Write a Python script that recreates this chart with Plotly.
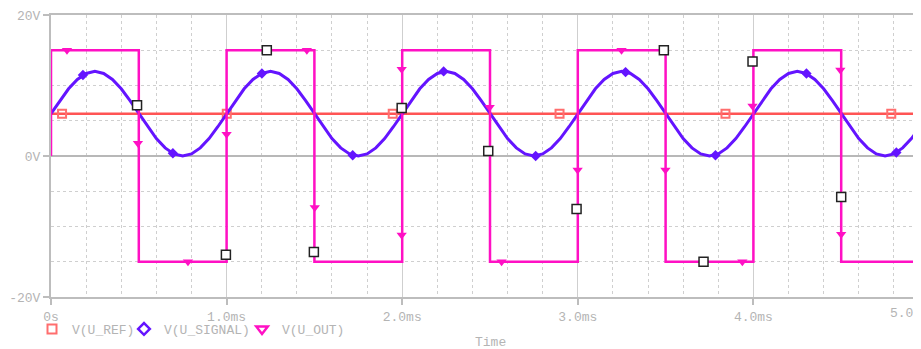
import plotly.graph_objects as go

# ---------------- data (time in ms, voltage in V) ----------------
t_ref = [0.0, 5.0]
v_ref = [6.0, 6.0]
t_ref_mk = [0.063, 1.001, 1.946, 2.896, 3.841, 4.785]
v_ref_mk = [6.0, 6.0, 6.0, 6.0, 6.0, 6.0]

t_sig = [i * 0.05 for i in range(101)]
v_sig = [
    6.0, 7.85, 9.53, 10.85, 11.71, 12.0, 11.71, 10.85, 9.53, 7.85,
    6.0, 4.15, 2.47, 1.15, 0.29, 0.0, 0.29, 1.15, 2.47, 4.15,
    6.0, 7.85, 9.53, 10.85, 11.71, 12.0, 11.71, 10.85, 9.53, 7.85,
    6.0, 4.15, 2.47, 1.15, 0.29, 0.0, 0.29, 1.15, 2.47, 4.15,
    6.0, 7.85, 9.53, 10.85, 11.71, 12.0, 11.71, 10.85, 9.53, 7.85,
    6.0, 4.15, 2.47, 1.15, 0.29, 0.0, 0.29, 1.15, 2.47, 4.15,
    6.0, 7.85, 9.53, 10.85, 11.71, 12.0, 11.71, 10.85, 9.53, 7.85,
    6.0, 4.15, 2.47, 1.15, 0.29, 0.0, 0.29, 1.15, 2.47, 4.15,
    6.0, 7.85, 9.53, 10.85, 11.71, 12.0, 11.71, 10.85, 9.53, 7.85,
    6.0, 4.15, 2.47, 1.15, 0.29, 0.0, 0.29, 1.15, 2.47, 4.15,
    6.0,
]
t_sig_mk = [0.182, 0.694, 1.201, 1.718, 2.236, 2.760, 3.272, 3.784, 4.302, 4.814]
v_sig_mk = [11.5, 0.4, 11.7, 0.1, 12.0, 0.0, 11.9, 0.1, 11.7, 0.5]

t_out = [0.0, 0.0, 0.5, 0.5, 1.0, 1.0, 1.5, 1.5, 2.0, 2.0, 2.5,
         2.5, 3.0, 3.0, 3.5, 3.5, 4.0, 4.0, 4.5, 4.5, 5.0]
v_out = [0.0, 15.0, 15.0, -15.0, -15.0, 15.0, 15.0, -15.0, -15.0, 15.0, 15.0,
         -15.0, -15.0, 15.0, 15.0, -15.0, -15.0, 15.0, 15.0, -15.0, -15.0]
t_out_mk = [0.091, 0.495, 0.78, 1.0, 1.457, 1.502, 1.997, 1.997, 2.498, 2.566,
            2.999, 3.249, 3.499, 3.937, 3.995, 4.495, 4.50]
v_out_mk = [15.0, 1.8, -15.0, 3.1, 15.0, -7.3, 12.3, -11.2, 6.9, -15.0,
            -2.0, 15.0, -2.0, -15.0, 7.1, 12.2, -11.1]

t_blk_mk = [0.49, 0.996, 1.229, 1.497, 1.997, 2.49, 2.993, 3.49, 3.716, 3.995, 4.50]
v_blk_mk = [7.2, -14.0, 15.0, -13.6, 6.8, 0.7, -7.5, 15.0, -15.0, 13.4, -5.8]

x_tick_vals = [0, 1, 2, 3, 4]
x_tick_text = ["0s", "1.0ms", "2.0ms", "3.0ms", "4.0ms"]
y_tick_vals = [-20, 0, 20]
y_tick_text = ["-20V", "0V", "20V"]

# ---------------- styling ----------------
C_REF = "#ff5454"
C_REF_MK = "#ff6e6e"
C_SIG = "#6414ff"
C_OUT = "#ff10c4"
TXT = "#b4b4b4"
GRID = "#cfcfcf"
AX = "#bdbdbd"
FONT = "Liberation Mono"

PLOT_W = 878.0
PLOT_H = 282.0

fig = go.Figure()

fig.add_trace(go.Scatter(x=t_ref, y=v_ref, mode="lines",
                         line=dict(color=C_REF, width=2.5), showlegend=False))
fig.add_trace(go.Scatter(x=t_ref_mk, y=v_ref_mk, mode="markers",
                         marker=dict(symbol="square-open", size=8, color=C_REF_MK,
                                     line=dict(width=2)), showlegend=False))
fig.add_trace(go.Scatter(x=t_sig, y=v_sig, mode="lines",
                         line=dict(color=C_SIG, width=3), showlegend=False))
fig.add_trace(go.Scatter(x=t_sig_mk, y=v_sig_mk, mode="markers",
                         marker=dict(symbol="diamond", size=8, color=C_SIG),
                         showlegend=False))
fig.add_trace(go.Scatter(x=t_out, y=v_out, mode="lines",
                         line=dict(color=C_OUT, width=2.5), showlegend=False))
fig.add_trace(go.Scatter(x=t_out_mk, y=v_out_mk, mode="markers",
                         marker=dict(symbol="triangle-down", size=9, color=C_OUT),
                         showlegend=False))
fig.add_trace(go.Scatter(x=t_blk_mk, y=v_blk_mk, mode="markers",
                         marker=dict(symbol="square", size=9, color="white",
                                     line=dict(color="#222222", width=1.5)),
                         showlegend=False))

# legend entries (marker symbols only), one small legend each for exact placement
fig.add_trace(go.Scatter(x=[None], y=[None], mode="markers", name="V(U_REF)",
                         legend="legend",
                         marker=dict(symbol="square-open", size=9, color=C_REF_MK,
                                     line=dict(width=2))))
fig.add_trace(go.Scatter(x=[None], y=[None], mode="markers", name="V(U_SIGNAL)",
                         legend="legend2",
                         marker=dict(symbol="diamond-open", size=9, color=C_SIG,
                                     line=dict(width=2.5))))
fig.add_trace(go.Scatter(x=[None], y=[None], mode="markers", name="V(U_OUT)",
                         legend="legend3",
                         marker=dict(symbol="triangle-down-open", size=10, color=C_OUT,
                                     line=dict(width=2.5))))

def leg(text_start_px):
    left = text_start_px + 2 - 38 - 51
    return dict(orientation="h", x=left / PLOT_W, xanchor="left",
                y=-32 / PLOT_H, yanchor="middle",
                font=dict(family=FONT, size=13, color=TXT),
                itemwidth=30, bgcolor="rgba(0,0,0,0)")

fig.update_layout(
    width=921, height=349,
    margin=dict(l=43, r=0, t=7, b=60, autoexpand=False),
    paper_bgcolor="white", plot_bgcolor="white",
    font=dict(family=FONT, size=13, color=TXT),
    showlegend=True,
    legend=leg(68), legend2=leg(160), legend3=leg(278),
    xaxis=dict(range=[0, 5.0], tickvals=x_tick_vals, ticktext=x_tick_text,
               showgrid=True, gridcolor=GRID, gridwidth=1,
               showline=True, linecolor=AX, linewidth=2, mirror=True,
               ticks="outside", ticklen=6, tickcolor=AX, tickwidth=1.5,
               zeroline=False,
               minor=dict(dtick=0.2, showgrid=True, gridcolor=GRID,
                          griddash="dot", gridwidth=1)),
    yaxis=dict(range=[-20, 20], tickvals=y_tick_vals, ticktext=y_tick_text,
               showgrid=True, gridcolor=GRID, gridwidth=1, griddash="dot",
               showline=True, linecolor=AX, linewidth=2, mirror=True,
               ticks="outside", ticklen=6, tickcolor=AX, tickwidth=1.5,
               zeroline=True, zerolinecolor="#b8b8b8", zerolinewidth=1.5,
               minor=dict(dtick=5, showgrid=True, gridcolor=GRID,
                          griddash="dot", gridwidth=1)),
    annotations=[
        dict(text="5.0ms", xref="paper", yref="paper",
             x=(909 - 51) / PLOT_W, y=0, yshift=-16, xanchor="center", yanchor="middle",
             showarrow=False, font=dict(family=FONT, size=13, color=TXT)),
        dict(text="Time", xref="paper", yref="paper",
             x=(490 - 51) / PLOT_W, y=0, yshift=-45, xanchor="center", yanchor="middle",
             showarrow=False, font=dict(family=FONT, size=13, color=TXT)),
    ],
)

fig.write_html("out.html")
